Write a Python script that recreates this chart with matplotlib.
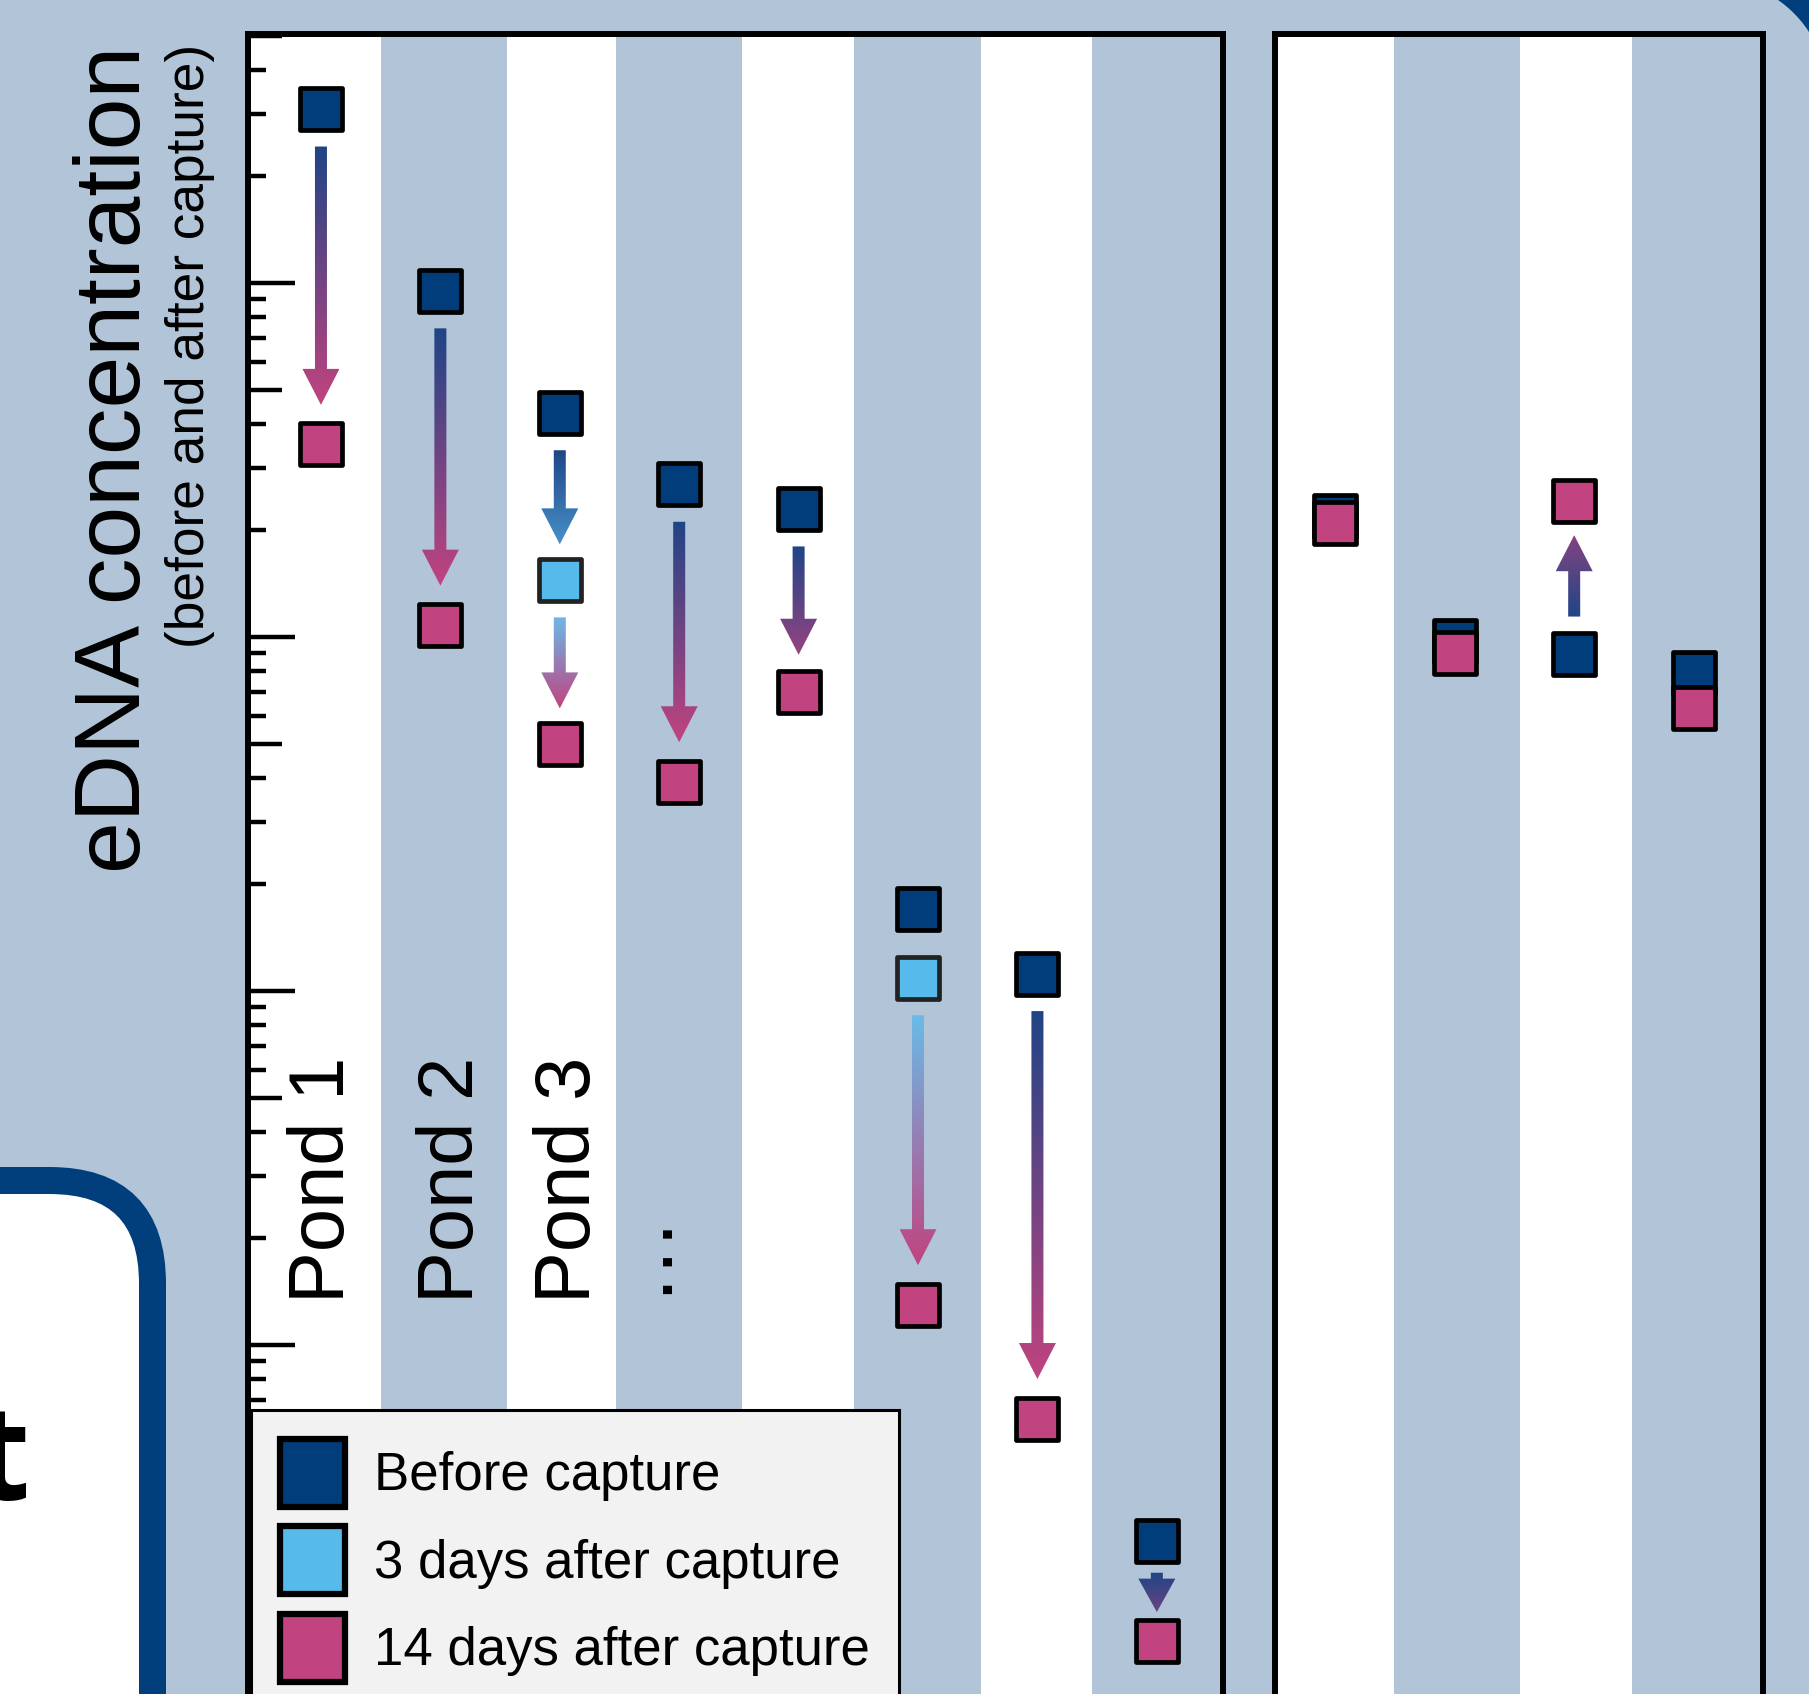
"""eDNA concentration before and after capture: removal ponds vs. control ponds."""
import numpy as np
import matplotlib

matplotlib.use("Agg")
import matplotlib.pyplot as plt
from matplotlib.colors import to_rgb
from matplotlib.markers import MarkerStyle
from matplotlib.patches import FancyBboxPatch, Patch, Polygon
from matplotlib.ticker import LogLocator, NullFormatter
from matplotlib.transforms import IdentityTransform, blended_transform_factory

W, H = 1809, 1694
plt.rcParams["font.family"] = ["Liberation Sans", "DejaVu Sans"]

# ----------------------------------------------------------------------
# data: eDNA copies per sample, NaN = not sampled
# ----------------------------------------------------------------------
nan = np.nan
before_removal = [31000, 9500, 4300, 2700, 2300, 170, 112, 2.8]
day3_removal = [nan, nan, 1450, nan, nan, 109, nan, nan]
day14_removal = [3500, 1080, 500, 390, 700, 13, 6.2, 1.46]

before_control = [2190, 975, 895, 790]
day3_control = [nan, nan, nan, nan]
day14_control = [2095, 902, 2420, 630]

pond_labels = ["Pond 1", "Pond 2", "Pond 3", "\u2026"]
series_labels = ["Before capture", "3 days after capture",
                 "14 days after capture"]

# ----------------------------------------------------------------------
# style
# ----------------------------------------------------------------------
BG = "#b2c4d7"
DARK = "#003d7a"
LIGHT = "#56bbea"
PINK = "#c1437f"
NAVY = "#003f7b"
ARROW_START = {"before": "#1f4586", "day3": "#6abbe8"}
ARROW_END = {"day3": "#5ab4e6", "day14": PINK}
SQ = MarkerStyle("s", joinstyle="round")
HALF = 23.5          # half outer marker size, px


def px_box(left, top, right, bottom):
    """Pixel box (origin top-left) -> figure fraction rect."""
    return [left / W, 1 - bottom / H, (right - left) / W, (bottom - top) / H]


def up(y):
    return H - y


fig = plt.figure(figsize=(W / 100, H / 100), dpi=100, facecolor=BG)
ax_a = fig.add_axes(px_box(248, 34, 1223, 1760))
ax_b = fig.add_axes(px_box(1275, 34, 1763, 1760))
ov = fig.add_axes([0, 0, 1, 1])
ov.set_xlim(0, W)
ov.set_ylim(0, H)
ov.set_autoscale_on(False)
ov.axis("off")


def setup_panel(ax, xlim, blue_spans):
    ax.set_facecolor("white")
    ax.set_yscale("log")
    ax.set_ylim(0.6727, 50500)
    ax.set_xlim(*xlim)
    for lo, hi in blue_spans:
        ax.axvspan(lo, hi, color=BG, lw=0, zorder=0)
    ax.set_xticks([])
    for s in ax.spines.values():
        s.set_linewidth(4.3)


setup_panel(ax_a, (-0.611, 7.554),
            [(0.503, 1.558), (2.471, 3.526), (4.464, 5.528), (6.457, 7.554)])
setup_panel(ax_b, (-0.502, 3.579), [(0.49, 1.55), (2.48, 3.579)])

# log ticks pointing inward, no labels
ax_a.yaxis.set_major_locator(LogLocator(base=10, numticks=50))
ax_a.yaxis.set_minor_locator(LogLocator(base=10, subs=(2, 3, 4, 6, 7, 8, 9),
                                        numticks=50))
ax_a.yaxis.set_major_formatter(NullFormatter())
ax_a.yaxis.set_minor_formatter(NullFormatter())
ax_a.tick_params(axis="y", which="major", direction="in", length=33.8, width=3.2)
ax_a.tick_params(axis="y", which="minor", direction="in", length=13, width=3.2)

# mid-decade (5 x 10^k) ticks
mid = ax_a.secondary_yaxis("left")
mid.set_yticks([5 * 10.0 ** k for k in range(-1, 5)])
mid.tick_params(which="major", direction="in", length=24.5, width=3.2,
                labelleft=False)
mid.tick_params(which="minor", length=0, labelleft=False)
mid.spines["left"].set_visible(False)

ax_b.tick_params(axis="y", which="both", left=False, labelleft=False)


# ----------------------------------------------------------------------
# markers
# ----------------------------------------------------------------------
def plot_series(ax, values, face, edge):
    ax.plot(np.arange(len(values)), values, ls="none", marker=SQ, ms=30.3,
            mfc=face, mec=edge, mew=3.4, zorder=3, clip_on=False)


for ax, b, d3, d14 in [(ax_a, before_removal, day3_removal, day14_removal),
                       (ax_b, before_control, day3_control, day14_control)]:
    plot_series(ax, b, DARK, "black")
    plot_series(ax, d3, LIGHT, "#222222")
    plot_series(ax, d14, PINK, "black")


# ----------------------------------------------------------------------
# gradient arrows between consecutive samples
# ----------------------------------------------------------------------
def gradient_arrow(x, y0, y1, c0, c1, frac):
    """Arrow from y0 to tip y1 (display px), colour fading c0 -> c1."""
    L = abs(y1 - y0)
    d = np.sign(y1 - y0)
    head = min(36, 0.85 * L)
    hw, sw = 18.5, 6
    yb = y1 - d * head
    verts = [(x - sw, y0), (x + sw, y0), (x + sw, yb), (x + hw, yb),
             (x, y1), (x - hw, yb), (x - sw, yb)]
    poly = Polygon(verts, closed=True, fc="none", ec="none")
    ov.add_patch(poly)
    t = np.linspace(0, frac, 256)[:, None]
    grad = (1 - t) * np.array(to_rgb(c0)) + t * np.array(to_rgb(c1))
    img = np.repeat(grad[:, None, :], 2, axis=1)
    im = ov.imshow(img, extent=(x - hw, x + hw, y0, y1), origin="lower",
                   aspect="auto", interpolation="bilinear", zorder=4)
    im.set_clip_path(poly)


def draw_arrows(ax, stages):
    for i in range(len(stages[0][1])):
        pts = [(k, v[i]) for k, v in stages if np.isfinite(v[i])]
        for (k0, v0), (k1, v1) in zip(pts, pts[1:]):
            x, ya = ax.transData.transform((i, v0))
            _, yb = ax.transData.transform((i, v1))
            d = np.sign(yb - ya)
            e0, e1 = ya + d * HALF, yb - d * HALF
            gap = (e1 - e0) * d
            if gap < 30:
                continue
            gs, ge = min(14, 0.16 * gap), min(16, 0.1 * gap)
            y0, y1 = e0 + d * gs, e1 - d * ge
            frac = 1.0 if k0 == "day3" else min(1.0, 0.3 + abs(y1 - y0) / 250)
            gradient_arrow(x, y0, y1, ARROW_START[k0], ARROW_END[k1], frac)


draw_arrows(ax_a, [("before", before_removal), ("day3", day3_removal),
                   ("day14", day14_removal)])
draw_arrows(ax_b, [("before", before_control), ("day3", day3_control),
                   ("day14", day14_control)])

# ----------------------------------------------------------------------
# labels and legend
# ----------------------------------------------------------------------
lab_tr = blended_transform_factory(ax_a.transData, IdentityTransform())
label_pos = [(0.02, 1303, 56), (1.10, 1303, 56), (2.08, 1303, 56),
             (2.66, 1294, 63)]
for (x, y, size), lab in zip(label_pos, pond_labels):
    ax_a.text(x, up(y), lab, transform=lab_tr, rotation=90,
              ha="center", va="bottom", fontsize=size)

ov.text(116, up(46), "eDNA concentration", rotation=90, ha="center",
        va="top", fontsize=67)
ov.text(190, up(44), "(before and after capture)", rotation=90,
        ha="center", va="top", fontsize=38.3)

handles = [Patch(facecolor=c, edgecolor="black", linewidth=4.5)
           for c in (DARK, LIGHT, PINK)]
leg = ax_a.legend(handles, series_labels, loc="upper left",
                  bbox_to_anchor=(251, up(1410)),
                  bbox_transform=IdentityTransform(), borderaxespad=0,
                  fontsize=38, fancybox=False, framealpha=1,
                  facecolor="#f2f2f2", edgecolor="black", borderpad=0.55,
                  handlelength=1.24, handleheight=1.6, handletextpad=0.55,
                  labelspacing=0.37)
leg.get_frame().set_linewidth(2.2)

# neighbouring poster panels
ov.add_patch(FancyBboxPatch((-400, up(2000)), 152.5 + 400,
                            up(1180.5) - up(2000),
                            boxstyle="round,pad=0,rounding_size=103",
                            fc="white", ec=NAVY, lw=27 * 0.72))
cx, cy, r = 1712.5, up(94.5), 115
ang = np.linspace(np.pi / 2, 0, 60)
corner = np.column_stack([cx + r * np.cos(ang), cy + r * np.sin(ang)])
corner = np.vstack([corner, [(1900, cy), (1900, 1800), (cx, 1800)]])
ov.add_patch(Polygon(corner, closed=True, fc=NAVY, ec="none"))
ov.text(30, up(1500), "t", fontsize=95, fontweight="bold",
        family=["Open Sans", "DejaVu Sans"], ha="right", va="baseline")

fig.savefig("out.png", dpi=100, facecolor=BG)
